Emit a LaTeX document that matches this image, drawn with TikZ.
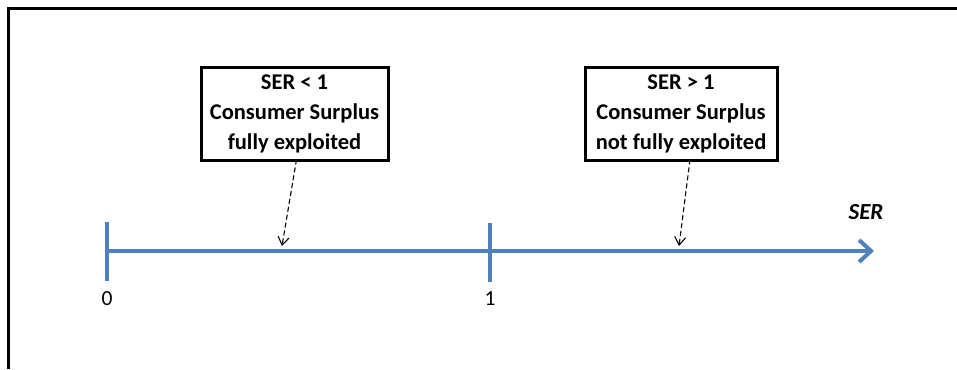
\documentclass[tikz,border=0pt]{standalone}
\usepackage{fontspec}
\setmainfont{Carlito}
\usetikzlibrary{arrows.meta}
\definecolor{axisblue}{HTML}{4F81BD}
\begin{document}
\begin{tikzpicture}[x=1pt,y=-1pt,
  infobox/.style={draw=black,line width=3pt,inner sep=0pt,align=center,
    font=\fontsize{22.5}{30}\selectfont\bfseries,minimum height=93pt},
  axisline/.style={draw=axisblue,line width=4pt},
  ticklabel/.style={font=\fontsize{21.5}{25}\selectfont,inner sep=0pt},
  pointer/.style={draw=black,line width=1.1pt,dash pattern=on 5pt off 3pt,
    -{Straight Barb[length=8pt,width=11pt,line width=1.1pt]}}]
\useasboundingbox (0,0) rectangle (957,369);
% frame
\draw[line width=3pt] (8.5,369) -- (8.5,8.5) -- (957,8.5);
% axis
\coordinate (a0) at (107,251);
\coordinate (a1) at (490,251);
\coordinate (aend) at (874,251);
\coordinate (t0top) at (107,222);
\coordinate (t0bot) at (107,281);
\coordinate (t1top) at (490,223);
\coordinate (t1bot) at (490,282);
\draw[axisline,-{Straight Barb[length=12pt,width=22pt,line width=4pt]}] (a0) -- (aend);
\draw[axisline] (t0top) -- (t0bot);
\draw[axisline] (t1top) -- (t1bot);
\node[ticklabel] (l0) at (107,299) {0};
\node[ticklabel] (l1) at (490,299) {1};
\node[ticklabel,font=\fontsize{23}{25}\selectfont\bfseries\itshape] (ser) at (866,212) {SER};
% boxes
\node[infobox,minimum width=187pt] (b1) at (294.5,113.5) {SER < 1\\Consumer Surplus\\fully exploited};
\node[infobox,minimum width=192pt] (b2) at (681,113.5) {SER > 1\\Consumer Surplus\\not fully exploited};
\coordinate (p1) at (282,246);
\coordinate (p2) at (679,246);
\draw[pointer] ([xshift=2pt,yshift=2pt]b1.south) -- (p1);
\draw[pointer] ([xshift=9pt,yshift=2pt]b2.south) -- (p2);
\end{tikzpicture}
\end{document}
